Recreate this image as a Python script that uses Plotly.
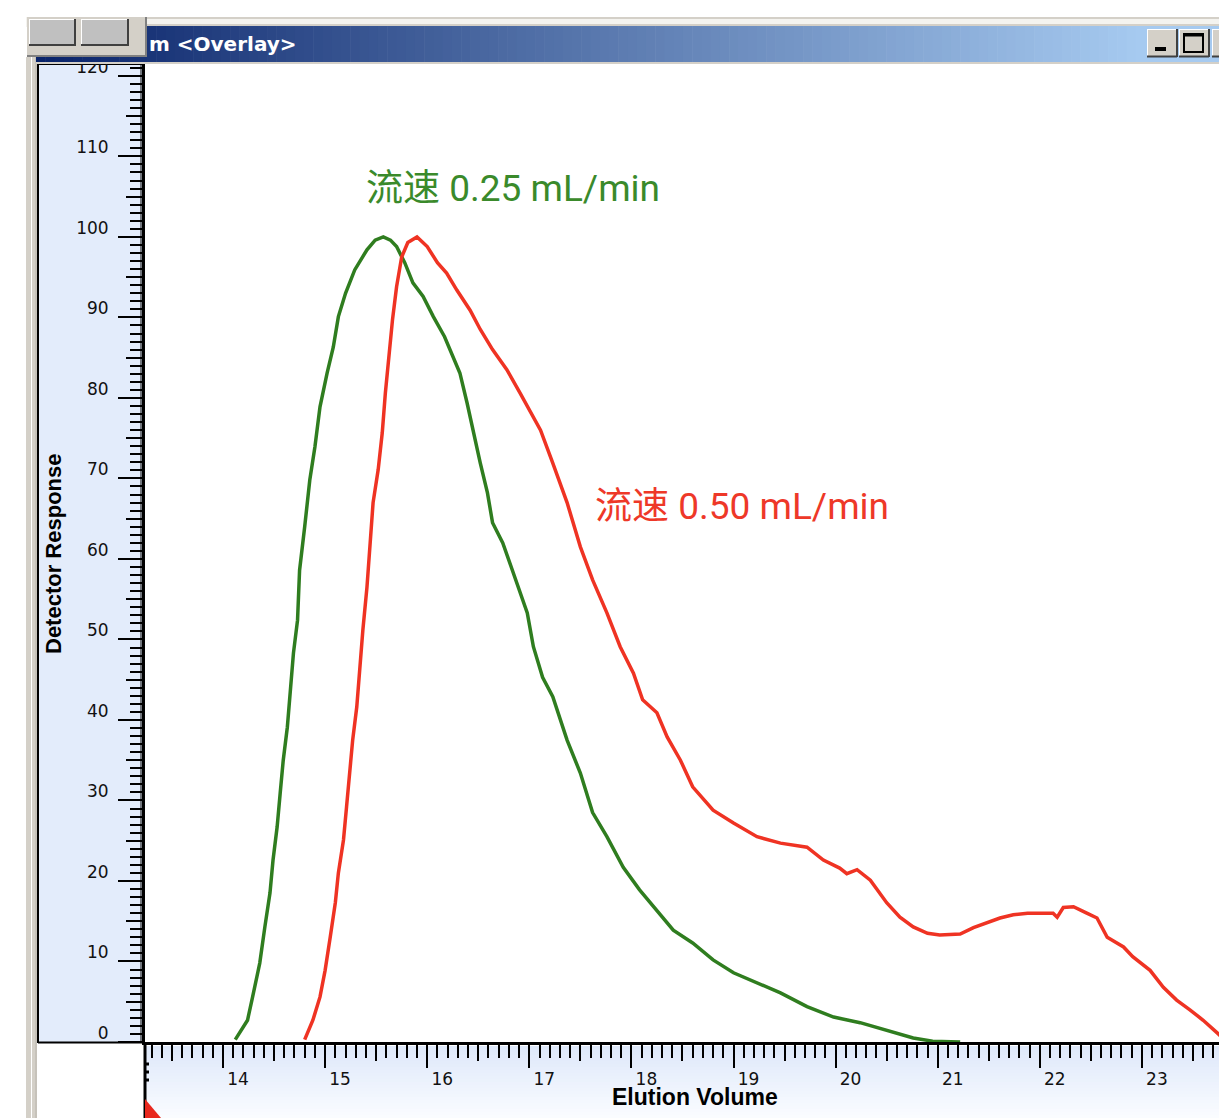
import plotly.graph_objects as go

# ---- chromatogram data (elution volume in mL, normalised detector response) ----
flow_025_volume = [14.12, 14.24, 14.29, 14.36, 14.41, 14.46, 14.49, 14.53, 14.56, 14.59,
                   14.63, 14.66, 14.69, 14.73, 14.75, 14.80, 14.85, 14.90, 14.95, 15.02,
                   15.08, 15.13, 15.20, 15.29, 15.41, 15.49, 15.57, 15.64, 15.70, 15.78,
                   15.86, 15.96, 16.06, 16.17, 16.25, 16.32, 16.39, 16.45, 16.52, 16.59,
                   16.64, 16.74, 16.81, 16.89, 16.98, 17.04, 17.13, 17.23, 17.37, 17.50,
                   17.62, 17.76, 17.92, 18.08, 18.25, 18.41, 18.60, 18.80, 19.00, 19.23,
                   19.46, 19.72, 19.98, 20.24, 20.50, 20.76, 20.95, 21.22]
flow_025_response = [0.3, 2.7, 5.6, 9.8, 14.3, 18.5, 22.6, 26.7, 30.9, 35.0,
                     39.1, 43.4, 48.3, 52.4, 58.6, 64.0, 69.8, 73.9, 78.9, 83.1,
                     86.3, 90.1, 93.0, 95.9, 98.4, 99.6, 100.0, 99.6, 98.8, 96.8,
                     94.3, 92.6, 90.1, 87.6, 85.1, 83.1, 79.4, 75.7, 71.9, 68.2,
                     64.5, 62.0, 59.5, 56.5, 53.3, 49.1, 45.3, 42.9, 37.5, 33.4,
                     28.5, 25.5, 21.7, 18.9, 16.4, 13.9, 12.3, 10.2, 8.6, 7.3,
                     6.1, 4.4, 3.1, 2.4, 1.5, 0.5, 0.1, 0.0]

flow_050_volume = [14.80, 14.88, 14.95, 15.00, 15.05, 15.10, 15.13, 15.18, 15.21, 15.24,
                   15.27, 15.31, 15.34, 15.37, 15.41, 15.44, 15.47, 15.52, 15.56, 15.59,
                   15.62, 15.66, 15.70, 15.75, 15.81, 15.90, 16.00, 16.10, 16.19, 16.29,
                   16.42, 16.52, 16.64, 16.78, 16.91, 17.04, 17.11, 17.23, 17.37, 17.50,
                   17.62, 17.76, 17.89, 18.02, 18.11, 18.25, 18.35, 18.48, 18.60, 18.80,
                   19.00, 19.23, 19.46, 19.72, 19.88, 20.04, 20.11, 20.21, 20.34, 20.50,
                   20.63, 20.76, 20.90, 21.02, 21.22, 21.35, 21.48, 21.61, 21.74, 21.88,
                   22.13, 22.17, 22.23, 22.33, 22.46, 22.56, 22.66, 22.82, 22.91, 23.08,
                   23.21, 23.34, 23.47, 23.60, 23.74, 23.80]
flow_050_response = [0.3, 2.7, 5.6, 8.9, 13.0, 17.3, 21.0, 25.1, 29.2, 33.8,
                     37.5, 41.6, 46.6, 51.2, 56.5, 61.1, 67.0, 71.1, 75.7, 80.6,
                     84.7, 89.7, 93.8, 97.5, 99.3, 100.0, 98.8, 96.8, 95.5, 93.4,
                     90.9, 88.5, 86.0, 83.5, 80.6, 77.6, 76.0, 71.9, 67.0, 61.5,
                     57.4, 53.3, 49.1, 45.8, 42.5, 40.9, 37.9, 35.0, 31.7, 28.8,
                     27.2, 25.5, 24.7, 24.2, 22.6, 21.6, 20.9, 21.4, 20.1, 17.3,
                     15.5, 14.3, 13.5, 13.3, 13.4, 14.2, 14.8, 15.4, 15.8, 16.0,
                     16.0, 15.5, 16.7, 16.8, 16.0, 15.4, 13.0, 11.8, 10.6, 8.9,
                     6.8, 5.2, 4.0, 2.7, 1.1, 0.4]

series_labels = ["流速 0.25 mL/min", "流速 0.50 mL/min"]
label_volume = [15.38, 17.62]
label_response = [106.0, 66.5]

window_title = "m <Overlay>"
x_title = "Elution Volume"
y_title = "Detector Response"

X_RANGE = [13.236, 23.755]
Y_RANGE = [0, 121.6]

GREEN = "#2f7d1f"
RED = "#ef3323"

# ---- page geometry (pixels) ----
W, H = 1219, 1118
L, R, T, B = 145, 1219, 63, 1042


def px(x):
    return (x - L) / (R - L)


def py(y):
    return (B - y) / (B - T)


shapes = []


def rect(x0, y0, x1, y1, fill, layer="below", line=None):
    shapes.append(dict(type="rect", xref="paper", yref="paper",
                       x0=px(x0), x1=px(x1), y0=py(y1), y1=py(y0),
                       fillcolor=fill, layer=layer,
                       line=dict(width=0) if line is None else line))


def hline(x0, x1, y, color, width=1, layer="below"):
    shapes.append(dict(type="line", xref="paper", yref="paper",
                       x0=px(x0), x1=px(x1), y0=py(y), y1=py(y),
                       line=dict(color=color, width=width), layer=layer))


def vline(x, y0, y1, color, width=1, layer="below"):
    shapes.append(dict(type="line", xref="paper", yref="paper",
                       x0=px(x), x1=px(x), y0=py(y0), y1=py(y1),
                       line=dict(color=color, width=width), layer=layer))


def mix(c0, c1, t):
    return "rgb(%d,%d,%d)" % tuple(round(a + (b - a) * t) for a, b in zip(c0, c1))


# window frame strips
rect(26, 17, 1219, 27, "#f4f3ef")
hline(146, 1219, 18, "#d4d0c8", 2)
hline(146, 1219, 25, "#d4d0c8", 2)
rect(26, 57, 37, 1118, "#d4d0c8")
vline(31.5, 57, 1118, "#ffffff", 1)
vline(36, 57, 1118, "#b8b4ac", 1)

# title bar gradient
c_left, c_right = (10, 36, 106), (166, 202, 240)
n = 120
x_start, x_end = 36, 1145
step = (x_end - x_start) / n
for i in range(n):
    rect(x_start + i * step, 26, x_start + (i + 1) * step + 0.6, 62,
         mix(c_left, c_right, i / (n - 1)), layer="above")
rect(x_end, 26, 1219, 62, mix(c_left, c_right, 1.0), layer="above")
hline(36, 1219, 63, "#d4d0c8", 2, layer="above")

# top-left toolbar box with two buttons
rect(27, 17, 147, 57, "#d4d0c8", layer="above")
hline(27, 147, 56, "#808080", 2, layer="above")
vline(146, 17, 57, "#808080", 2, layer="above")
for bx0, bx1 in [(29, 75), (81, 128)]:
    rect(bx0, 19, bx1, 45, "#c0c0c0", layer="above")
    hline(bx0, bx1, 19.5, "#ffffff", 1, layer="above")
    vline(bx0 + 0.5, 19, 45, "#ffffff", 1, layer="above")
    hline(bx0, bx1, 45, "#404040", 2, layer="above")
    vline(bx1, 19, 46, "#404040", 2, layer="above")

# caption buttons
for bx0, bx1 in [(1147, 1177), (1179, 1209), (1212, 1240)]:
    rect(bx0, 29, bx1, 57, "#d4d0c8", layer="above")
    hline(bx0, bx1, 29.5, "#ffffff", 1, layer="above")
    vline(bx0 + 0.5, 29, 57, "#ffffff", 1, layer="above")
    hline(bx0, bx1, 56.5, "#404040", 2, layer="above")
    vline(bx1, 29, 57, "#404040", 2, layer="above")
rect(1155, 47, 1166, 51, "#000000", layer="above")
rect(1184, 34, 1203, 52, "rgba(0,0,0,0)", layer="above",
     line=dict(color="#000000", width=2))
hline(1184, 1203, 35, "#000000", 3, layer="above")

# left axis panel
rect(38, 64, 144, 1042, "#e3ecfb")
vline(38, 64, 1043, "#000000", 2)
hline(38, 144, 1042.5, "#000000", 2)
hline(38, 144, 64.5, "#000000", 1)
vline(141, 64, 1042, "#000000", 1)

# bottom axis panel with vertical fade
c_top, c_bot = (222, 232, 250), (250, 252, 255)
m = 24
for i in range(m):
    y0 = 1046 + i * (72 / m)
    rect(146, y0, 1219, y0 + 72 / m + 0.6, mix(c_top, c_bot, i / (m - 1)))
vline(145, 1043, 1118, "#000000", 3)
for yy in (1064, 1072, 1080):
    hline(145, 149, yy, "#000000", 3)
shapes.append(dict(type="path", xref="paper", yref="paper", layer="above",
                   path="M %f,%f L %f,%f L %f,%f Z" % (px(145), py(1099), px(161), py(1118), px(145), py(1118)),
                   fillcolor="#e8281e", line=dict(width=0)))

fig = go.Figure()
fig.add_trace(go.Scatter(x=flow_025_volume, y=flow_025_response, mode="lines",
                         line=dict(color=GREEN, width=3.5), hoverinfo="skip",
                         showlegend=False, name=series_labels[0]))
fig.add_trace(go.Scatter(x=flow_050_volume, y=flow_050_response, mode="lines",
                         line=dict(color=RED, width=3.5), hoverinfo="skip",
                         showlegend=False, name=series_labels[1]))
# empty trace carrying the half-step tick axes
fig.add_trace(go.Scatter(x=[None], y=[None], xaxis="x2", yaxis="y2",
                         mode="lines", hoverinfo="skip", showlegend=False))

tick_font = dict(family="DejaVu Sans, Liberation Sans, sans-serif", size=17, color="#111111")

annotations = [
    dict(text=series_labels[0], x=label_volume[0], y=label_response[0], xref="x", yref="y",
         xanchor="left", yanchor="middle", showarrow=False,
         font=dict(family="Roboto, Noto Sans CJK SC, sans-serif", size=37, color="#3a8a2b")),
    dict(text=series_labels[1], x=label_volume[1], y=label_response[1], xref="x", yref="y",
         xanchor="left", yanchor="middle", showarrow=False,
         font=dict(family="Roboto, Noto Sans CJK SC, sans-serif", size=37, color="#ee3828")),
    dict(text="<b>%s</b>" % y_title, x=px(53), y=py(553), xref="paper", yref="paper",
         textangle=-90, showarrow=False, xanchor="center", yanchor="middle",
         font=dict(family="Liberation Sans, Arial, sans-serif", size=22, color="#000000")),
    dict(text="<b>%s</b>" % x_title, x=px(695), y=py(1097), xref="paper", yref="paper",
         showarrow=False, xanchor="center", yanchor="middle",
         font=dict(family="Liberation Sans, Arial, sans-serif", size=23, color="#000000")),
    dict(text="<b>%s</b>" % window_title, x=px(147), y=py(44), xref="paper", yref="paper",
         showarrow=False, xanchor="left", yanchor="middle",
         font=dict(family="DejaVu Sans, sans-serif", size=20, color="#ffffff")),
]

fig.update_layout(
    width=W, height=H,
    margin=dict(l=L, r=W - R, t=T, b=H - B, pad=0),
    paper_bgcolor="#ffffff", plot_bgcolor="#ffffff",
    showlegend=False,
    xaxis=dict(range=X_RANGE, showgrid=False, zeroline=False,
               showline=True, linecolor="#000000", linewidth=3,
               ticks="outside", ticklen=23, tickwidth=2, tickcolor="#000000",
               tick0=0, dtick=1, tickfont=tick_font,
               ticklabelshift=15, ticklabelstandoff=-3,
               minor=dict(ticks="outside", tick0=0, dtick=0.1, ticklen=13,
                          tickwidth=2, tickcolor="#000000", showgrid=False)),
    xaxis2=dict(range=X_RANGE, overlaying="x", anchor="y", side="bottom",
                showgrid=False, zeroline=False, showline=False,
                ticks="outside", ticklen=18, tickwidth=2, tickcolor="#000000",
                tick0=0, dtick=0.5, showticklabels=False),
    yaxis=dict(range=Y_RANGE, showgrid=False, zeroline=False,
               showline=True, linecolor="#000000", linewidth=3,
               ticks="outside", ticklen=24, tickwidth=2, tickcolor="#000000",
               tick0=0, dtick=10, tickfont=tick_font,
               ticklabelshift=-9, ticklabelstandoff=6,
               minor=dict(ticks="outside", tick0=0, dtick=1, ticklen=12,
                          tickwidth=2, tickcolor="#000000", showgrid=False)),
    yaxis2=dict(range=Y_RANGE, overlaying="y", anchor="x", side="left",
                showgrid=False, zeroline=False, showline=False,
                ticks="outside", ticklen=18, tickwidth=2, tickcolor="#000000",
                tick0=0, dtick=5, showticklabels=False),
    shapes=shapes,
    annotations=annotations,
)

fig.write_html("out.html")
